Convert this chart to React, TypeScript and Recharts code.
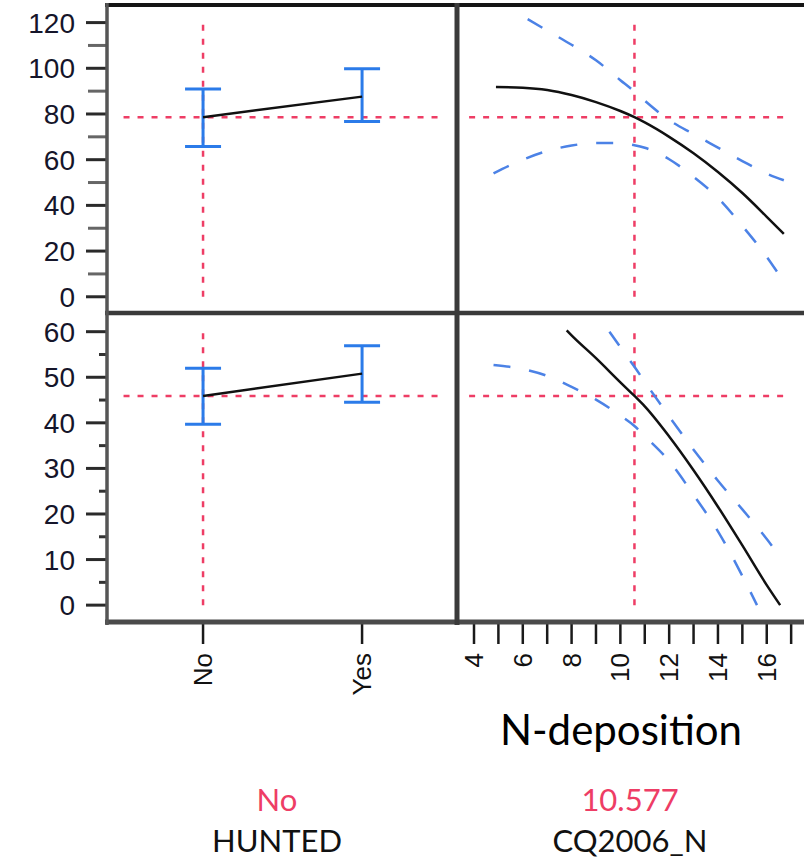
import React from 'react';
import { LineChart, Line, XAxis, YAxis, ErrorBar, ReferenceLine } from 'recharts';

// ---- Factor HUNTED (categorical) ----
const huntedLevels = ['No', 'Yes'];
const huntedCodes = [0, 1];

// ---- Top response vs HUNTED ----
const topHuntMean = [78.6, 87.6];
const topHuntLow = [65.8, 76.7];
const topHuntHigh = [90.9, 99.8];

// ---- Bottom response vs HUNTED ----
const botHuntMean = [45.9, 50.8];
const botHuntLow = [39.7, 44.5];
const botHuntHigh = [52.0, 56.9];

// ---- Top response vs CQ2006_N ----
const topFitX = [4.9, 6, 7, 8, 9, 10, 10.577, 11, 12, 13, 14, 15, 16, 16.7];
const topFitY = [91.8, 91.5, 90.5, 88.3, 85.2, 81.3, 78.6, 76.3, 70.0, 62.8, 54.6, 45.4, 35.0, 27.5];
const topUpX = [6.2, 7, 8, 9, 10, 10.577, 11, 12, 13, 14, 15, 16, 16.7];
const topUpY = [121.5, 116.5, 110.3, 103.5, 94.8, 89.8, 85.8, 77.3, 71.2, 65.3, 59.4, 53.9, 51.0];
const topLoX = [4.8, 6, 7, 8, 9, 10, 10.577, 11, 12, 13, 14, 15, 16, 16.7];
const topLoY = [54.0, 60.0, 63.8, 66.2, 67.3, 67.2, 66.3, 65.2, 60.2, 52.5, 43.3, 31.0, 17.5, 6.5];

// ---- Bottom response vs CQ2006_N ----
const botFitX = [7.8, 8, 9, 10, 10.577, 11, 12, 13, 14, 15, 16, 16.55];
const botFitY = [60.3, 59.2, 54.2, 48.9, 45.9, 43.6, 37.0, 29.6, 21.6, 13.1, 4.4, 0];
const botUpX = [9.55, 10, 10.577, 11, 12, 13, 14, 15, 16, 16.6];
const botUpY = [60.0, 56.6, 52.3, 49.0, 41.4, 34.1, 27.3, 21.0, 14.5, 10.2];
const botLoX = [4.8, 6, 7, 8, 9, 10, 10.577, 11, 12, 13, 14, 15, 15.6];
const botLoY = [52.7, 51.8, 50.3, 47.9, 45.1, 41.6, 39.3, 37.1, 31.6, 24.2, 16.2, 6.4, 0];

// ---- Current settings / predictions ----
const currentHunted = 0; // 'No'
const currentN = 10.577;
const currentNLabel = '10.577';
const topPrediction = 78.6;
const botPrediction = 45.9;

// ---- Ticks ----
const topMajorTicks = [0, 20, 40, 60, 80, 100, 120];
const topMinorTicks = [10, 30, 50, 70, 90, 110];
const botMajorTicks = [0, 10, 20, 30, 40, 50, 60];
const botMinorTicks = [5, 15, 25, 35, 45, 55];
const nMajorTicks = [4, 6, 8, 10, 12, 14, 16];
const nMinorTicks = [5, 7, 9, 11, 13, 15, 17];

// ---- Layout ----
const huntDomain: [number, number] = [-0.604, 1.597];
const nDomain: [number, number] = [3.303, 17.65];
const topDomain: [number, number] = [-7.1, 127.7];
const botDomain: [number, number] = [-3.7, 64.1];
const huntRefSpan = [-0.5, 1.48];
const nRefSpan = [3.8, 16.8];
const topRefSpan = [0, 120];
const botRefSpan = [0, 60];

const RED = '#ee3d65';
const BLUE = '#4c82e6';
const BAR_BLUE = '#2b7be9';

const huntRows = (mean: number[], low: number[], high: number[]) =>
  huntedCodes.map((x, i) => ({ x, y: mean[i], err: [mean[i] - low[i], high[i] - mean[i]] }));
const curve = (xs: number[], ys: number[]) => xs.map((x, i) => ({ x, y: ys[i] }));

const sortNum = (a: number[], b: number[]) => [...a, ...b].sort((p, q) => p - q);

const makeYTick = (major: number[], minorLen: number, minorColor: string) => (props: any) => {
  const { x, y, payload } = props;
  const isMajor = major.includes(payload.value);
  return (
    <g>
      <line x1={x - (isMajor ? 21 : minorLen)} x2={x} y1={y} y2={y} stroke={isMajor ? '#2a2a2a' : minorColor} strokeWidth={3} />
      {isMajor && (
        <text x={x - 32} y={y} dy="0.36em" textAnchor="end" fontFamily="Liberation Sans, Arial, sans-serif" fontSize={28} fill="#15152a">
          {payload.value}
        </text>
      )}
    </g>
  );
};

const makeXTick = (labelFor: (v: number) => string | null) => (props: any) => {
  const { x, y, payload } = props;
  const label = labelFor(payload.value);
  const ty = y + 31;
  return (
    <g>
      <line x1={x} x2={x} y1={y} y2={y + 22} stroke="#1a1a1a" strokeWidth={2.5} />
      {label !== null && (
        <text x={x} y={ty} dy="0.35em" transform={`rotate(-90 ${x} ${ty})`} textAnchor="end" fontFamily="Liberation Sans, Arial, sans-serif" fontSize={26} fill="#111">
          {label}
        </text>
      )}
    </g>
  );
};

const topYTick = makeYTick(topMajorTicks, 19, '#666');
const botYTick = makeYTick(botMajorTicks, 8, '#333');
const huntXTick = makeXTick((v) => {
  const i = huntedCodes.indexOf(v);
  return i >= 0 ? huntedLevels[i] : null;
});
const nXTick = makeXTick((v) => (nMajorTicks.includes(v) ? String(v) : null));

const redLine = { stroke: RED, strokeWidth: 2.5, strokeDasharray: '6 8' };
const ciLine = { stroke: BLUE, strokeWidth: 2.5, strokeDasharray: '17 19' };

function HuntPanel({ rows, pred, yDomain, refSpan, top, height, showX, yTicks, yTick }: any) {
  return (
    <div style={{ position: 'absolute', left: 0, top }}>
      <LineChart width={457} height={height} margin={{ top: showX ? 0 : 5, right: 0, bottom: 0, left: 0 }}>
        <XAxis
          dataKey="x"
          type="number"
          domain={huntDomain}
          allowDataOverflow
          ticks={huntedCodes}
          interval={0}
          hide={!showX}
          height={showX ? 91 : 0}
          axisLine={false}
          tickLine={false}
          tickSize={0}
          tickMargin={0}
          tick={huntXTick}
        />
        <YAxis
          type="number"
          domain={yDomain}
          allowDataOverflow
          ticks={yTicks}
          interval={0}
          width={107}
          axisLine={false}
          tickLine={false}
          tickSize={0}
          tickMargin={0}
          tick={yTick}
        />
        <ReferenceLine segment={[{ x: huntRefSpan[0], y: pred }, { x: huntRefSpan[1], y: pred }]} {...redLine} />
        <ReferenceLine segment={[{ x: currentHunted, y: refSpan[0] }, { x: currentHunted, y: refSpan[1] }]} {...redLine} />
        <Line data={rows} dataKey="y" type="linear" stroke="#111" strokeWidth={2.5} dot={false} activeDot={false} isAnimationActive={false}>
          <ErrorBar dataKey="err" direction="y" width={18} stroke={BAR_BLUE} strokeWidth={3} isAnimationActive={false} />
        </Line>
      </LineChart>
    </div>
  );
}

function NPanel({ fit, up, lo, pred, yDomain, refSpan, top, height, showX }: any) {
  return (
    <div style={{ position: 'absolute', left: 457, top }}>
      <LineChart width={350} height={height} margin={{ top: showX ? 0 : 5, right: 0, bottom: 0, left: 0 }}>
        <XAxis
          dataKey="x"
          type="number"
          domain={nDomain}
          allowDataOverflow
          ticks={sortNum(nMajorTicks, nMinorTicks)}
          interval={0}
          hide={!showX}
          height={showX ? 91 : 0}
          axisLine={false}
          tickLine={false}
          tickSize={0}
          tickMargin={0}
          tick={nXTick}
        />
        <YAxis type="number" domain={yDomain} allowDataOverflow hide />
        <ReferenceLine segment={[{ x: nRefSpan[0], y: pred }, { x: nRefSpan[1], y: pred }]} {...redLine} />
        <ReferenceLine segment={[{ x: currentN, y: refSpan[0] }, { x: currentN, y: refSpan[1] }]} {...redLine} />
        <Line data={up} dataKey="y" type="monotone" {...ciLine} dot={false} activeDot={false} isAnimationActive={false} />
        <Line data={lo} dataKey="y" type="monotone" {...ciLine} dot={false} activeDot={false} isAnimationActive={false} />
        <Line data={fit} dataKey="y" type="monotone" stroke="#111" strokeWidth={2.5} dot={false} activeDot={false} isAnimationActive={false} />
      </LineChart>
    </div>
  );
}

export default function App() {
  return (
    <div style={{ position: 'absolute', left: 0, top: 0, width: 807, height: 858, background: '#fff', overflow: 'hidden' }}>
      <HuntPanel
        rows={huntRows(topHuntMean, topHuntLow, topHuntHigh)}
        pred={topPrediction}
        yDomain={topDomain}
        refSpan={topRefSpan}
        top={0}
        height={313}
        showX={false}
        yTicks={sortNum(topMajorTicks, topMinorTicks)}
        yTick={topYTick}
      />
      <NPanel
        fit={curve(topFitX, topFitY)}
        up={curve(topUpX, topUpY)}
        lo={curve(topLoX, topLoY)}
        pred={topPrediction}
        yDomain={topDomain}
        refSpan={topRefSpan}
        top={0}
        height={313}
        showX={false}
      />
      <HuntPanel
        rows={huntRows(botHuntMean, botHuntLow, botHuntHigh)}
        pred={botPrediction}
        yDomain={botDomain}
        refSpan={botRefSpan}
        top={313}
        height={400}
        showX={true}
        yTicks={sortNum(botMajorTicks, botMinorTicks)}
        yTick={botYTick}
      />
      <NPanel
        fit={curve(botFitX, botFitY)}
        up={curve(botUpX, botUpY)}
        lo={curve(botLoX, botLoY)}
        pred={botPrediction}
        yDomain={botDomain}
        refSpan={botRefSpan}
        top={313}
        height={400}
        showX={true}
      />
      <svg width={807} height={858} style={{ position: 'absolute', left: 0, top: 0, pointerEvents: 'none' }}>
        <line x1={105} x2={804} y1={5} y2={5} stroke="#151515" strokeWidth={4} />
        <line x1={105} x2={804} y1={313} y2={313} stroke="#3a3a3a" strokeWidth={4.5} />
        <line x1={105} x2={804} y1={622} y2={622} stroke="#4a4a4a" strokeWidth={5} />
        <line x1={107} x2={107} y1={3} y2={625} stroke="#555" strokeWidth={3.5} />
        <line x1={457} x2={457} y1={3} y2={625} stroke="#3a3a3a" strokeWidth={5} />
        <text x={621} y={745} textAnchor="middle" fontFamily="Lato, sans-serif" fontSize={42} fill="#000">N-deposition</text>
        <text x={277} y={811} textAnchor="middle" fontFamily="Lato, sans-serif" fontSize={31} fill={RED}>{huntedLevels[currentHunted]}</text>
        <text x={277} y={852} textAnchor="middle" fontFamily="Lato, sans-serif" fontSize={31} fill="#111">HUNTED</text>
        <text x={630} y={811} textAnchor="middle" fontFamily="Lato, sans-serif" fontSize={31} fill={RED}>{currentNLabel}</text>
        <text x={630} y={852} textAnchor="middle" fontFamily="Lato, sans-serif" fontSize={31} fill="#111">CQ2006_N</text>
      </svg>
    </div>
  );
}
